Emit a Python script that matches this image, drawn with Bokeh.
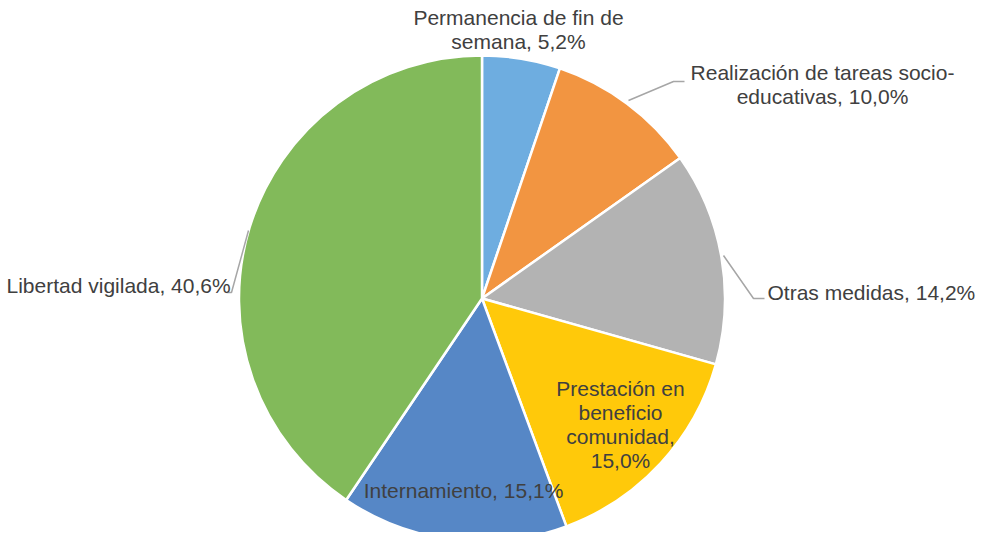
import numpy as np
from bokeh.plotting import figure
from bokeh.models import Range1d, ColumnDataSource
from bokeh.core.properties import value
from bokeh.embed import file_html
from bokeh.resources import INLINE

categories = ["Permanencia de fin de semana", "Realización de tareas socio-educativas",
              "Otras medidas", "Prestación en beneficio comunidad",
              "Internamiento", "Libertad vigilada"]
values = [5.2, 10.0, 14.2, 15.0, 15.1, 40.6]
colors = ["#6EADE0", "#F29541", "#B3B3B3", "#FFC90A", "#5687C6", "#82BA5A"]
label_texts = ["Permanencia de fin de\nsemana, 5,2%",
               "Realización de tareas socio-\neducativas, 10,0%",
               "Otras medidas, 14,2%",
               "Prestación en\nbeneficio\ncomunidad,\n15,0%",
               "Internamiento, 15,1%",
               "Libertad vigilada, 40,6%"]

W, H = 977, 532
def sx(x):
    return x
def sy(y):
    return H - y

cx, cy, r = sx(481.5), sy(298), 243

vals = np.array(values)
frac = vals / vals.sum()
cum = np.concatenate([[0], np.cumsum(frac)])
start = np.pi / 2 - 2 * np.pi * cum[:-1]
end = np.pi / 2 - 2 * np.pi * cum[1:]

p = figure(width=W, height=H, output_backend="svg", toolbar_location=None,
           x_range=Range1d(0, W), y_range=Range1d(0, H), min_border=0)
p.axis.visible = False
p.grid.visible = False
p.outline_line_color = None
p.background_fill_color = "white"

src = ColumnDataSource(dict(start=start, end=end, color=colors, cat=categories, val=values))
p.wedge(x=cx, y=cy, radius=r, start_angle="start", end_angle="end",
        direction="clock", fill_color="color", line_color="white",
        line_width=2.5, source=src)

# leader lines
lc = "#A6A6A6"
p.line([sx(628), sx(673), sx(684)], [sy(100), sy(81), sy(81)], line_color=lc, line_width=1.5)
p.line([sx(723), sx(753), sx(764)], [sy(255), sy(298), sy(298)], line_color=lc, line_width=1.5)
p.line([sx(248), sx(231), sx(226)], [sy(230), sy(292), sy(292)], line_color=lc, line_width=1.5)

# label placements
lx = [518, 822, 767, 620, 463, 6]
ly = [29, 84, 292, 424, 490, 285]
al = ["center", "center", "left", "center", "center", "left"]
tc = "#404040"
for t, x, y, a in zip(label_texts, lx, ly, al):
    p.text(x=[sx(x)], y=[sy(y)], text=[t], text_align=a, text_baseline="middle",
           text_font=value("Liberation Sans"), text_font_size="21px",
           text_color=tc, text_line_height=1.03)

open("out.html", "w").write(file_html(p, INLINE))
